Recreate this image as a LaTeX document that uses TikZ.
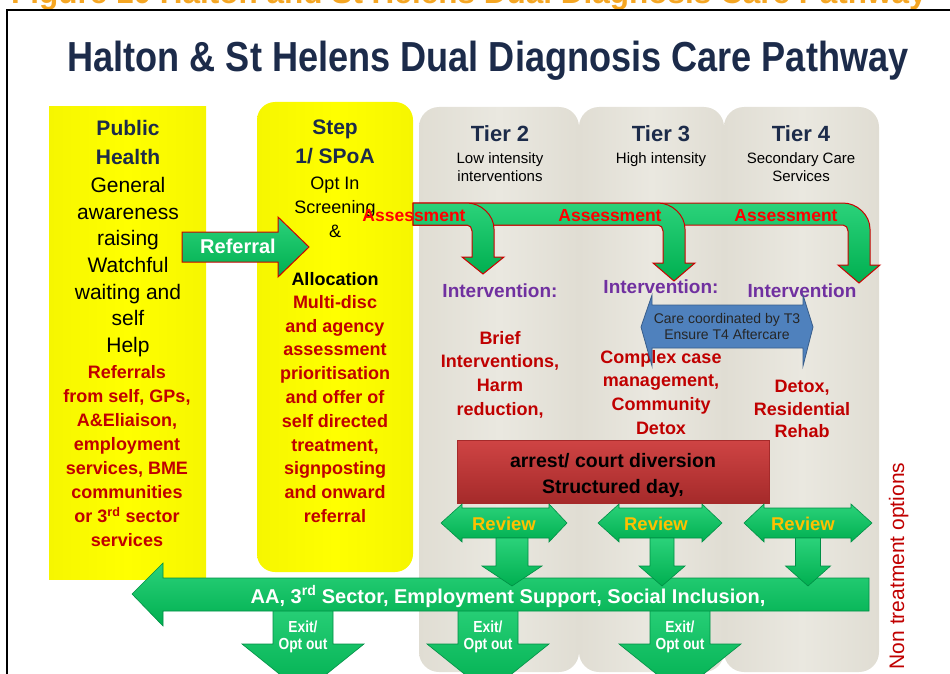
\documentclass[tikz,border=0pt]{standalone}
\usepackage{fontspec}
\setmainfont{Liberation Sans}
\newfontfamily\narrowfont[FakeStretch=0.86]{Liberation Sans}
\usetikzlibrary{positioning}

\definecolor{navy}{HTML}{1C2B4A}
\definecolor{figorange}{HTML}{F5A623}
\definecolor{boxyellow}{HTML}{FFFF00}
\definecolor{boxyellowdk}{HTML}{F6F600}
\definecolor{colgray}{HTML}{EAE8E0}
\definecolor{coledge}{HTML}{E0DDD3}
\definecolor{pathgreen}{HTML}{00AF50}
\definecolor{pathgreenlt}{HTML}{2BD27A}
\definecolor{pathgreendk}{HTML}{008F45}
\definecolor{darkred}{HTML}{C00000}
\definecolor{intpurple}{HTML}{7030A0}
\definecolor{carebl}{HTML}{4F81BD}
\definecolor{carebldk}{HTML}{385D8A}
\definecolor{reviewgold}{HTML}{FFC000}
\definecolor{boxredlt}{HTML}{CF4444}
\definecolor{boxreddk}{HTML}{A52A2A}

% block arrows
\newcommand\bentarrow[3]{% stem centre, head base, tip
	\draw[rarrow] (413,203) -- ({#1-16},203)
		.. controls ({#1-2},203) and ({#1+11},215) .. ({#1+11},229)
		-- ({#1+11},#2) -- ({#1+21},#2) -- (#1,#3) -- ({#1-21},#2) -- ({#1-11},#2)
		-- ({#1-11},231) .. controls ({#1-11},228) and ({#1-13},225) .. ({#1-16},225)
		-- (413,225) -- cycle;}
\newcommand\reviewarrow[4]{%
	\draw[garrow] (#1,523) -- (#2,504) -- (#2,508) -- (#3,508) -- (#3,504) -- (#4,523)
		-- (#3,542) -- (#3,538) -- (#2,538) -- (#2,542) -- cycle;}
\newcommand\droparrow[6]{% centre, stem half, head half, top, head base, tip
	\draw[garrow] ({#1-#2},#4) -- ({#1+#2},#4) -- ({#1+#2},#5) -- ({#1+#3},#5)
		-- (#1,#6) -- ({#1-#3},#5) -- ({#1-#2},#5) -- cycle;}

\begin{document}
\begin{tikzpicture}
	[x=1pt,y=-1pt,
	every node/.style={inner sep=0pt,align=center},
	garrow/.style={top color=pathgreenlt,bottom color=pathgreen,draw=pathgreendk,line width=.6pt},
	rarrow/.style={top color=pathgreenlt,bottom color=pathgreen,draw=red!80!black,line width=1pt},
	ybox/.style={left color=boxyellowdk,right color=boxyellowdk,middle color=boxyellow},
	tiercol/.style={left color=coledge,right color=coledge,middle color=colgray,rounded corners=20pt},
	hd/.style={font=\bfseries\fontsize{21}{29}\selectfont,text=navy},
	bodytxt/.style={font=\fontsize{21}{26.7}\selectfont},
	redtxt/.style={font=\bfseries\fontsize{18}{24}\selectfont,text=darkred},
	tierhd/.style={font=\bfseries\fontsize{22}{26}\selectfont,text=navy},
	tiersub/.style={font=\fontsize{15}{18}\selectfont},
	interv/.style={font=\bfseries\fontsize{19}{23}\selectfont,text=intpurple}]
	\useasboundingbox (0,0) rectangle (950,674);
	\node (figcap) [anchor=base west,font=\bfseries\fontsize{31.5}{34}\selectfont,text=figorange] at (11,3.5) {Figure 10 Halton and St Helens Dual Diagnosis Care Pathway};
	\draw [line width=2pt] (7,675) -- (7,10) -- (951,10);
	\node (title) [anchor=base,font=\narrowfont\bfseries\fontsize{42}{46}\selectfont,text=navy] at (488,72) {Halton \& St Helens Dual Diagnosis Care Pathway};

	% columns
	\path [tiercol] (419,107) rectangle (579,672);
	\path [tiercol] (579,107) rectangle (724,672);
	\path [tiercol] (724,107) rectangle (879,672);
	\path [ybox] (49,107) rectangle (206,579);
	\path [ybox,rounded corners=18pt] (257,102) rectangle (413,572);

	% public health
	\node (pubhead) [hd,anchor=north] at (128,120) {Public\\Health};
	\node (pubtxt) [bodytxt,anchor=north] at (128,177) {General\\awareness\\raising\\Watchful\\waiting and\\self\\Help};
	\node (pubref) [redtxt,font=\bfseries\fontsize{18}{24.1}\selectfont,anchor=north] at (127,365) {Referrals\\from self, GPs,\\A\&Eliaison,\\employment\\services, BME\\communities\\or 3\textsuperscript{rd} sector\\services};

	% step 1
	\node (stephead) [hd,anchor=north] at (335,120) {Step\\1/ SPoA};
	\node (steptxt) [font=\fontsize{18}{24}\selectfont,anchor=north] at (335,177) {Opt In\\Screening\\\&};
	\node (stepalloc) [font=\bfseries\fontsize{18}{24}\selectfont,anchor=north] at (335,272) {Allocation};
	\node (stepred) [redtxt,font=\bfseries\fontsize{18}{23.8}\selectfont,anchor=north] at (335,295) {Multi-disc\\and agency\\assessment\\prioritisation\\and offer of\\self directed\\treatment,\\signposting\\and onward\\referral};

	% tiers
	\node (tier2) [tierhd,anchor=base] at (500,142) {Tier 2};
	\node (tier3) [tierhd,anchor=base] at (661,142) {Tier 3};
	\node (tier4) [tierhd,anchor=base] at (801,142) {Tier 4};
	\node (tier2sub) [tiersub,anchor=north] at (500,152) {Low intensity\\interventions};
	\node (tier3sub) [tiersub,anchor=north] at (661,152) {High intensity};
	\node (tier4sub) [tiersub,anchor=north] at (801,152) {Secondary Care\\Services};
	\node (int2) [interv,anchor=base] at (500,297) {Intervention:};
	\node (int3) [interv,anchor=base] at (661,293) {Intervention:};
	\node (int4) [interv,anchor=base] at (802,297) {Intervention};
	\node (tier2txt) [redtxt,font=\bfseries\fontsize{18}{23.7}\selectfont,anchor=north] at (500,331) {Brief\\Interventions,\\Harm\\reduction,};
	\node (tier3txt) [redtxt,font=\bfseries\fontsize{18}{23.7}\selectfont,anchor=north] at (661,350) {Complex case\\management,\\Community\\Detox};
	\node (tier4txt) [redtxt,font=\bfseries\fontsize{18}{22.5}\selectfont,anchor=north] at (802,380) {Detox,\\Residential\\Rehab};

	% care coordination
	\draw [fill=carebl,draw=carebldk,line width=.8pt] (641,327) -- (652,295) -- (652,305) -- (803,305) -- (803,295) -- (813,327)
		-- (803,366) -- (803,348) -- (652,348) -- (652,366) -- cycle;
	\node (care) [font=\fontsize{14}{16}\selectfont,text=black!85,anchor=north] at (727,313) {Care coordinated by T3\\Ensure T4 Aftercare};

	% diversion
	\draw [top color=boxredlt,bottom color=boxreddk,draw=boxreddk] (457,440) rectangle (769,503);
	\node (divert) [font=\bfseries\fontsize{19.5}{26}\selectfont,anchor=north] at (613,453) {arrest/ court diversion\\Structured day,};

	% referral and assessment
	\draw [rarrow] (182,232) -- (278,232) -- (278,217) -- (309,247) -- (278,277) -- (278,262) -- (182,262) -- cycle;
	\node (referral) [anchor=base,font=\bfseries\fontsize{20}{22}\selectfont,text=white] at (238,253) {Referral};
	\bentarrow{859}{265}{283}
	\bentarrow{674}{263}{281}
	\bentarrow{483}{257}{274}
	\node (assess2) [anchor=base,font=\bfseries\fontsize{17.5}{20}\selectfont,text=red] at (414,221) {Assessment};
	\node (assess3) [anchor=base,font=\bfseries\fontsize{17.5}{20}\selectfont,text=red] at (610,221) {Assessment};
	\node (assess4) [anchor=base,font=\bfseries\fontsize{17.5}{20}\selectfont,text=red] at (786,221) {Assessment};

	% review and exit
	\reviewarrow{441}{462}{549}{567}
	\reviewarrow{598}{619}{702}{722}
	\reviewarrow{744}{764}{851}{872}
	\node (review2) [anchor=base,font=\bfseries\fontsize{18.5}{20}\selectfont,text=reviewgold] at (504,530) {Review};
	\node (review3) [anchor=base,font=\bfseries\fontsize{18.5}{20}\selectfont,text=reviewgold] at (656,530) {Review};
	\node (review4) [anchor=base,font=\bfseries\fontsize{18.5}{20}\selectfont,text=reviewgold] at (803,530) {Review};
	\droparrow{303}{30}{61}{600}{644}{693}
	\droparrow{488}{30}{61}{600}{644}{693}
	\droparrow{680}{30}{61}{600}{644}{693}
	\draw [garrow] (132,594) -- (163,563) -- (163,578) -- (869,578) -- (869,611) -- (163,611) -- (163,626) -- cycle;
	\node (support) [anchor=base,font=\bfseries\fontsize{20}{22}\selectfont,text=white] at (508,603) {AA, 3\textsuperscript{rd} Sector, Employment Support, Social Inclusion,};
	\droparrow{512}{16}{30}{538}{566}{586}
	\droparrow{662}{12}{23}{538}{566}{586}
	\droparrow{808}{12.5}{22.5}{538}{566}{586}
	\node (exit1) [anchor=north,font=\narrowfont\bfseries\fontsize{16}{17}\selectfont,text=white] at (303,620.5) {Exit/\\Opt out};
	\node (exit2) [anchor=north,font=\narrowfont\bfseries\fontsize{16}{17}\selectfont,text=white] at (488,620.5) {Exit/\\Opt out};
	\node (exit3) [anchor=north,font=\narrowfont\bfseries\fontsize{16}{17}\selectfont,text=white] at (680,620.5) {Exit/\\Opt out};

	\node (nontreat) [rotate=90,anchor=base,font=\fontsize{21}{24}\selectfont,text=darkred] at (904,566) {Non treatment options};
\end{tikzpicture}
\end{document}
